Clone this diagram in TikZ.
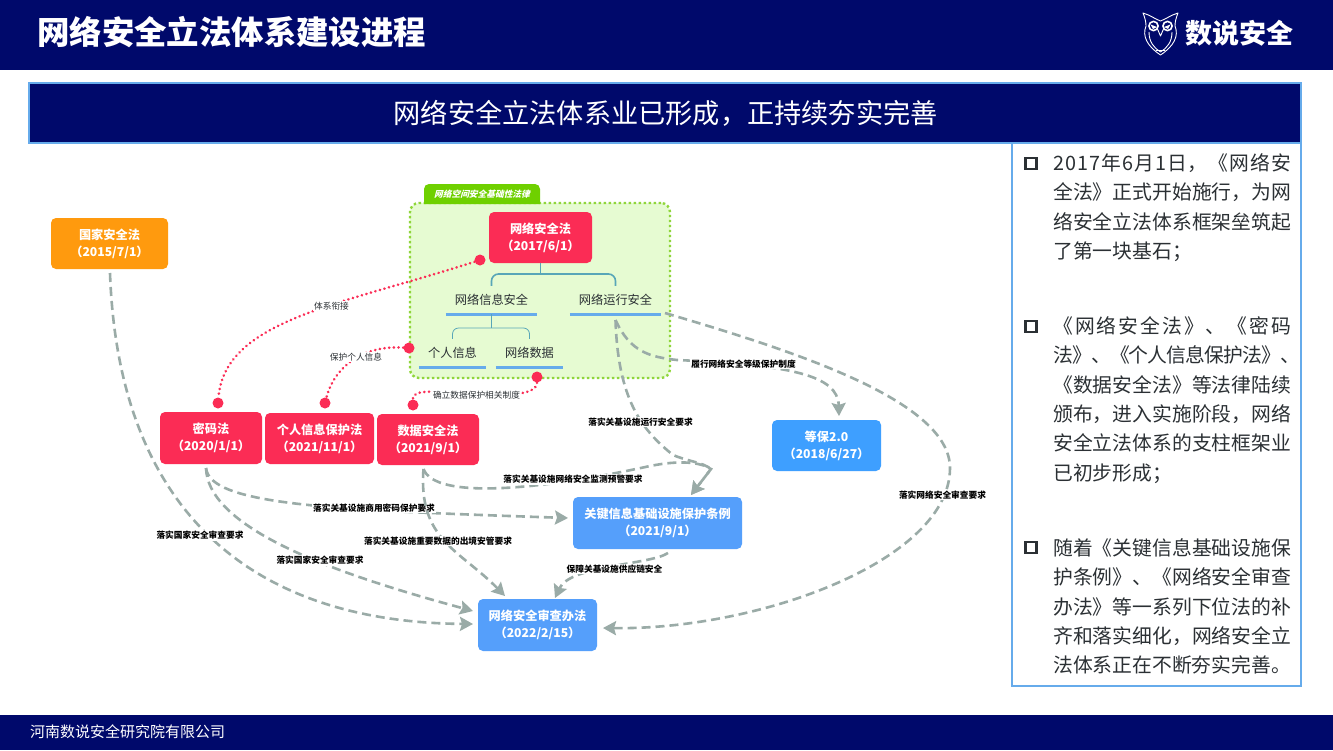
\documentclass[tikz,border=0pt]{standalone}
\usepackage{fontspec}
\setmainfont{Noto Sans CJK SC}
\newfontfamily\tabfont[FakeSlant=0.25,BoldFeatures={FakeSlant=0.25}]{Noto Sans CJK SC}
\usepackage{tikz}
\usetikzlibrary{arrows.meta}
\definecolor{navy}{HTML}{00096B}
\definecolor{edgeblue}{HTML}{66ABEB}
\definecolor{lawred}{HTML}{FB2C55}
\definecolor{lawblue}{HTML}{559FFB}
\definecolor{lawcyan}{HTML}{3E9FFF}
\definecolor{laworange}{HTML}{FF9A0E}
\definecolor{groupfill}{HTML}{E6FBD2}
\definecolor{groupline}{HTML}{8FD63A}
\definecolor{tabgreen}{HTML}{6FD000}
\definecolor{treeline}{HTML}{58A6B8}
\definecolor{dashgray}{HTML}{9AABA7}
\definecolor{inktext}{HTML}{2B3034}
\def\spreadchars#1{\ifx#1\relax\else#1\hskip 0pt plus 1pt minus 1pt\expandafter\spreadchars\fi}
\newcommand{\justline}[1]{\hbox to 238pt{\spreadchars#1\relax\unskip}}
\newcommand{\wideline}[1]{\hbox to 247pt{\spreadchars#1\relax\unskip}}
\tikzset{
    lawbox/.style={rounded corners=5pt, text=white, align=center, inner sep=0pt,
        font=\bfseries\fontsize{12.2}{17}\selectfont},
    redbox/.style={lawbox, fill=lawred},
    topic/.style={text=inktext, inner sep=0pt, minimum height=28pt,
        font=\fontsize{12.2}{14}\selectfont},
    rule/.style={edgeblue, line width=2.6pt},
    dotline/.style={lawred, line width=2.8pt, line cap=round, dash pattern=on 0.1pt off 4.6pt},
    reddot/.style={circle, fill=lawred, minimum size=11pt, inner sep=0pt},
    grayarrow/.style={dashgray, line width=2.6pt, dash pattern=on 9pt off 5pt,
        -{Stealth[length=13pt,width=14pt,inset=2pt]}},
    edgetext/.style={fill=white, inner sep=1pt, text=black,
        font=\bfseries\fontsize{8.7}{10}\selectfont},
    notetext/.style={fill=white, inner sep=1pt, text=inktext,
        font=\fontsize{8.7}{10}\selectfont},
    square/.style={draw=inktext, line width=2.6pt, minimum size=11pt, inner sep=0pt},
    para/.style={anchor=west, align=left, inner sep=0pt, text=inktext,
        font=\fontsize{19.8}{29.3}\selectfont},
    owlline/.style={white, line width=0.9pt, line join=round}
}
\begin{document}
\begin{tikzpicture}[x=1pt,y=-1pt]
    \useasboundingbox (0,0) rectangle (1333,750);
    % --- 1. 頁首與頁尾 ---
    \fill[white] (0,0) rectangle (1333,750);
    \fill[navy] (0,0) rectangle (1333,70);
    \fill[navy] (0,715) rectangle (1333,750);
    \node[anchor=west, inner sep=0pt, text=white, font=\bfseries\fontsize{32.4}{36}\selectfont] (title) at (37,32) {网络安全立法体系建设进程};
    \node[anchor=west, inner sep=0pt, text=white, font=\fontsize{15}{18}\selectfont] (footer) at (30,732) {河南数说安全研究院有限公司};
    \node[anchor=west, inner sep=0pt, text=white, font=\bfseries\fontsize{27}{30}\selectfont] (brand) at (1185,33) {数说安全};

    % --- 2. 標誌 ---
    \draw[owlline] (1143,13) .. controls (1150,15) and (1155,19) .. (1160.5,21) .. controls (1166,19) and (1171,15) .. (1178,13) .. controls (1176,18) and (1175,22) .. (1175,26) .. controls (1179,36) and (1174,46) .. (1160.5,55) .. controls (1147,46) and (1142,36) .. (1146,26) .. controls (1146,22) and (1145,18) .. cycle;
    \draw[owlline, line width=1.6pt] (1153.5,26) circle (4.6pt);
    \draw[owlline, line width=1.6pt] (1167.5,26) circle (4.6pt);
    \fill[white] (1150.5,24.5) -- (1157,27) -- (1153,29) -- cycle;
    \fill[white] (1170.5,24.5) -- (1164,27) -- (1168,29) -- cycle;
    \draw[owlline] (1157.5,29) -- (1160.5,36) -- (1163.5,29);
    \draw[owlline] (1149,32) .. controls (1149,42) and (1154,48) .. (1160.5,52) .. controls (1167,48) and (1172,42) .. (1172,32);
    \draw[owlline] (1156,50) -- (1165,50);

    % --- 3. 副標題與右側說明 ---
    \node[draw=edgeblue, line width=1.2pt, fill=navy, text=white, minimum width=1272pt, minimum height=60pt, inner sep=0pt, font=\fontsize{27.2}{30}\selectfont] (banner) at (665,113) {\hspace{1.5pt}网络安全立法体系业已形成，正持续夯实完善};
    \draw[edgeblue, line width=1.2pt] (1012,143) rectangle (1301,686);

    \node[square] (marka) at (1031,163.5) {};
    \node[square] (markb) at (1031,326.5) {};
    \node[square] (markc) at (1031,547.5) {};
    \node[para] (parta) at (1053,207.5) {\justline{2017年6月1日，《网络安}\\\justline{全法》正式开始施行，为网}\\\justline{络安全立法体系框架垒筑起}\\了第一块基石；};
    \node[para] (partb) at (1053,400) {\justline{《网络安全法》、《密码}\\\wideline{法》、《个人信息保护法》、}\\\justline{《数据安全法》等法律陆续}\\\justline{颁布，进入实施阶段，网络}\\\justline{安全立法体系的支柱框架业}\\已初步形成；};
    \node[para] (partc) at (1053,606.5) {\justline{随着《关键信息基础设施保}\\\justline{护条例》、《网络安全审查}\\\justline{办法》等一系列下位法的补}\\\justline{齐和落实细化，网络安全立}\\法体系正在不断夯实完善。};

    % --- 4. 基礎性法律分組 ---
    \node[fill=groupfill, draw=groupline, line width=2.4pt, dash pattern=on 2.4pt off 2.6pt, rounded corners=9pt, minimum width=260pt, minimum height=175pt, inner sep=0pt] (basegroup) at (540,290.5) {};
    \fill[tabgreen] (424,204) [rounded corners=5pt] -- (424,184) -- (540,184) [sharp corners] -- (540,204) -- cycle;
    \node[text=white, inner sep=0pt, font=\tabfont\bfseries\fontsize{8.7}{10}\selectfont] (tabtext) at (482,194) {网络空间安全基础性法律};

    \node[redbox, minimum width=103pt, minimum height=51pt] (wangluo) at (540.5,237.5) {网络安全法\\（2017/6/1）};
    \node[topic, minimum width=91pt] (xinxi) at (491.5,300) {网络信息安全};
    \node[topic, minimum width=91pt] (yunxing) at (615.5,300) {网络运行安全};
    \node[topic, minimum width=67pt] (geren) at (452.5,353) {个人信息};
    \node[topic, minimum width=67pt] (shuju) at (529.5,353) {网络数据};
    \foreach \item in {xinxi,yunxing,geren,shuju}
        \draw[rule] (\item.south west) -- (\item.south east);

    \coordinate (treetop) at (540.5,274);
    \coordinate (subtop) at (491.5,328);
    \draw[treeline, line width=1.6pt] (wangluo.south) -- (treetop);
    \draw[treeline, line width=1.6pt, rounded corners=7pt] (xinxi.north) |- (treetop) -| (yunxing.north);
    \draw[treeline, line width=0.8pt] (xinxi.south) -- (subtop);
    \draw[treeline, line width=0.8pt, rounded corners=6pt] (geren.north) |- (subtop) -| (shuju.north);

    % --- 5. 其他法規節點 ---
    \node[lawbox, fill=laworange, minimum width=117pt, minimum height=51pt] (guojia) at (109.5,243.5) {国家安全法\\（2015/7/1）};
    \node[redbox, minimum width=102pt, minimum height=52pt] (mima) at (211,438) {密码法\\（2020/1/1）};
    \node[redbox, minimum width=109pt, minimum height=51pt] (gexin) at (319.5,438.5) {个人信息保护法\\（2021/11/1）};
    \node[redbox, minimum width=102pt, minimum height=51pt] (shujufa) at (428,439.5) {数据安全法\\（2021/9/1）};
    \node[lawbox, fill=lawcyan, minimum width=109pt, minimum height=51pt] (dengbao) at (826.5,445.5) {等保2.0\\（2018/6/27）};
    \node[lawbox, fill=lawblue, minimum width=169pt, minimum height=52pt] (guanji) at (657.5,523) {关键信息基础设施保护条例\\（2021/9/1）};
    \node[lawbox, fill=lawblue, minimum width=119pt, minimum height=52pt] (shencha) at (537.5,625) {网络安全审查办法\\（2022/2/15）};

    % --- 6. 紅色虛線與圓點 ---
    \node[reddot] (dota) at (480,260) {};
    \node[reddot] (dotb) at (218,403) {};
    \node[reddot] (dotc) at (409,348) {};
    \node[reddot] (dotd) at (325,403) {};
    \node[reddot] (dote) at (537,377) {};
    \node[reddot] (dotf) at (413,405) {};
    \draw[dotline] (dota) .. controls (340,305) and (225,320) .. (dotb);
    \draw[dotline] (dotc) .. controls (365,345) and (335,365) .. (dotd);
    \draw[dotline] (dote) .. controls (537,398) and (490,395) .. (470,394) .. controls (440,392) and (412,388) .. (dotf);
    \node[notetext] (labela) at (331.5,306) {体系衔接};
    \node[notetext] (labelb) at (356,357) {保护个人信息};
    \node[notetext] (labelc) at (476.5,395) {确立数据保护相关制度};

    % --- 7. 灰色箭頭 ---
    \coordinate (guojiaout) at (110,273);
    \coordinate (mimaout) at (206,468);
    \coordinate (shujuout) at (423.5,469);
    \coordinate (yunxingout) at (615.5,320);
    \coordinate (yunxingright) at (665,313);
    \coordinate (guanjiout) at (668,553);
    \coordinate (guanjitop) at (691,495);
    \coordinate (guanjiturn) at (711,469);
    \coordinate (guanjileft) at (568,518);
    \coordinate (dengbaotop) at (839,416);
    \coordinate (shenchatop) at (505,596);
    \coordinate (shenchamid) at (555,598);
    \coordinate (shenchaa) at (473,611);
    \coordinate (shenchab) at (473,624);
    \coordinate (shenchac) at (603,628);

    \draw[grayarrow] (guojiaout) .. controls (118,500) and (240,622) .. (shenchab);
    \draw[grayarrow] (mimaout) .. controls (208,530) and (340,575) .. (shenchaa);
    \draw[grayarrow] (mimaout) .. controls (210,505) and (330,510) .. (guanjileft);
    \node[edgetext] (labeld) at (374,508) {落实关基设施商用密码保护要求};
    \draw[grayarrow] (shujuout) .. controls (418,540) and (460,550) .. (shenchatop);
    \draw[grayarrow] (shujuout) .. controls (435,500) and (540,490) .. (650,466) .. controls (680,460) and (700,462) .. (guanjiturn) -- (guanjitop);
    \draw[grayarrow] (yunxingout) .. controls (618,400) and (642,430) .. (673,455) .. controls (690,462) and (702,462) .. (guanjiturn) -- (guanjitop);
    \draw[grayarrow] (yunxingout) .. controls (630,352) and (650,357) .. (677,360) .. controls (790,365) and (838,375) .. (dengbaotop);
    \draw[grayarrow] (yunxingright) .. controls (790,350) and (950,400) .. (950,468) .. controls (950,560) and (760,630) .. (shenchac);
    \draw[grayarrow] (guanjiout) .. controls (650,565) and (570,565) .. (shenchamid);

    \node[edgetext] (labele) at (200,535.5) {落实国家安全审查要求};
    \node[edgetext] (labelf) at (320,560.5) {落实国家安全审查要求};
    \node[edgetext] (labelg) at (438,541) {落实关基设施重要数据的出境安管要求};
    \node[edgetext] (labelh) at (573,479.5) {落实关基设施网络安全监测预警要求};
    \node[edgetext] (labeli) at (640.5,422) {落实关基设施运行安全要求};
    \node[edgetext] (labelj) at (743.5,364) {履行网络安全等级保护制度};
    \node[edgetext] (labelk) at (942.5,495) {落实网络安全审查要求};
    \node[edgetext] (labell) at (614.5,569) {保障关基设施供应链安全};
\end{tikzpicture}
\end{document}
